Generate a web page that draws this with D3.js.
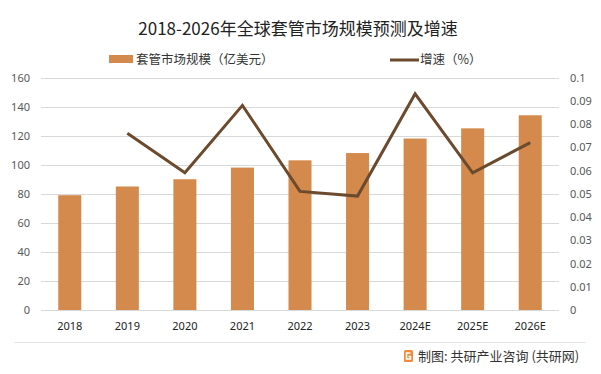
<!DOCTYPE html>
<html>
<head>
<meta charset="utf-8">
<script src="https://cdn.jsdelivr.net/npm/d3@7"></script>
<style>
  body { margin: 0; background: #fff; }
  svg { display: block; font-family: "Noto Sans CJK SC", "Noto Sans", sans-serif; }
</style>
</head>
<body>
<svg id="chart" width="601" height="374"></svg>
<script>
// 数据
const years = ["2018", "2019", "2020", "2021", "2022", "2023", "2024E", "2025E", "2026E"];
const marketSize = [79, 85, 90, 98, 103, 108, 118, 125, 134];
const growthRate = [null, 0.076, 0.059, 0.088, 0.051, 0.049, 0.093, 0.059, 0.072];
const leftTicks = [0, 20, 40, 60, 80, 100, 120, 140, 160];
const rightTicks = [0, 0.01, 0.02, 0.03, 0.04, 0.05, 0.06, 0.07, 0.08, 0.09, 0.1];

const svg = d3.select("#chart");
const plot = {left: 41, right: 559, top: 77.5, bottom: 310};

const x = d3.scaleBand().domain(years).range([plot.left, plot.right]).paddingInner(0.6).paddingOuter(0.3);
const yL = d3.scaleLinear().domain([0, 160]).range([plot.bottom, plot.top]);
const yR = d3.scaleLinear().domain([0, 0.1]).range([plot.bottom, plot.top]);

// 标题
svg.append("text")
    .attr("x", 298).attr("y", 35)
    .attr("text-anchor", "middle")
    .attr("font-size", 17)
    .attr("fill", "#222")
    .text("2018-2026年全球套管市场规模预测及增速");

// 图例
svg.append("rect").attr("x", 109).attr("y", 55).attr("width", 24).attr("height", 8).attr("fill", "#D48A4C");
svg.append("text").attr("x", 136).attr("y", 64).attr("font-size", 12.5).attr("fill", "#333")
    .text("套管市场规模（亿美元）");
svg.append("line").attr("x1", 390).attr("x2", 419).attr("y1", 60).attr("y2", 60)
    .attr("stroke", "#6B4A2E").attr("stroke-width", 3);
svg.append("text").attr("x", 420).attr("y", 64).attr("font-size", 12.5).attr("fill", "#333")
    .text("增速（%）");

// 网格线
svg.append("g")
    .selectAll("line")
    .data(leftTicks)
    .enter()
    .append("line")
    .attr("x1", plot.left).attr("x2", plot.right)
    .attr("y1", d => Math.round(yL(d)) + 0.5).attr("y2", d => Math.round(yL(d)) + 0.5)
    .attr("stroke", "#d9d9d9").attr("stroke-width", 1);

// 左轴
const axisL = svg.append("g").attr("transform", `translate(${plot.left},0)`)
    .call(d3.axisLeft(yL).tickValues(leftTicks).tickSize(0).tickPadding(11));
axisL.select(".domain").remove();
axisL.selectAll("text").attr("font-size", 11).attr("fill", "#595959")
    .attr("font-family", "\"Noto Sans\", sans-serif");

// 右轴
const axisR = svg.append("g").attr("transform", `translate(${plot.right},0)`)
    .call(d3.axisRight(yR).tickValues(rightTicks).tickSize(0).tickPadding(11).tickFormat(d => String(+d.toFixed(2))));
axisR.select(".domain").remove();
axisR.selectAll("text").attr("font-size", 11).attr("fill", "#595959")
    .attr("font-family", "\"Noto Sans\", sans-serif");

// 柱子
svg.selectAll(".bar")
    .data(years.map((y, i) => ({year: y, v: marketSize[i]})))
    .enter()
    .append("rect")
    .attr("class", "bar")
    .attr("x", d => x(d.year))
    .attr("y", d => yL(d.v))
    .attr("width", x.bandwidth())
    .attr("height", d => plot.bottom - yL(d.v))
    .attr("fill", "#D48A4C");

// 增速折线
const lineData = years.map((y, i) => ({year: y, v: growthRate[i]})).filter(d => d.v !== null);
svg.append("path")
    .datum(lineData)
    .attr("fill", "none")
    .attr("stroke", "#6B4A2E")
    .attr("stroke-width", 3)
    .attr("stroke-linejoin", "miter")
    .attr("d", d3.line().x(d => x(d.year) + x.bandwidth() / 2).y(d => yR(d.v)));

// X轴
const axisB = svg.append("g").attr("transform", `translate(0,${plot.bottom})`)
    .call(d3.axisBottom(x).tickSize(0).tickPadding(12));
axisB.select(".domain").remove();
axisB.selectAll("text").attr("font-size", 11).attr("fill", "#222")
    .attr("font-family", "\"Noto Sans\", sans-serif");

// 底部分隔线与来源
svg.append("line").attr("x1", 14).attr("x2", 586).attr("y1", 342.5).attr("y2", 342.5)
    .attr("stroke", "#e6e6e6").attr("stroke-width", 1);

const logo = svg.append("g").attr("transform", "translate(404,350)");
logo.append("rect").attr("width", 9).attr("height", 12).attr("rx", 1.5).attr("fill", "#F08A3C");
logo.append("path").attr("d", "M6.5 3 H2.5 V9 H6.5 V6.5 H4.5").attr("fill", "none")
    .attr("stroke", "#fff").attr("stroke-width", 1.5);

svg.append("text").attr("x", 418).attr("y", 361).attr("font-size", 13).attr("fill", "#333")
    .text("制图: 共研产业咨询 (共研网)");
</script>
</body>
</html>
